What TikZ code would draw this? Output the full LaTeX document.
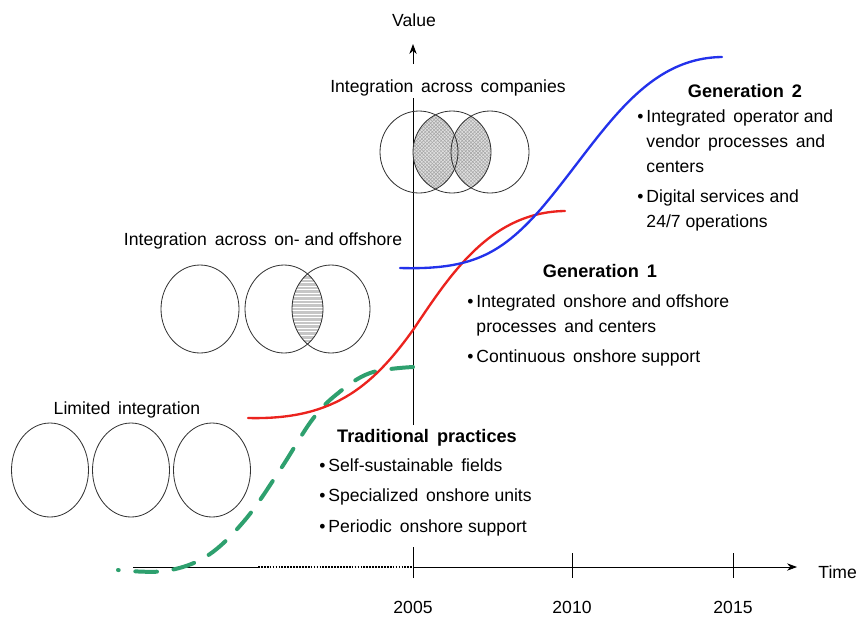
\documentclass[tikz,border=0pt]{standalone}
\usepackage{fontspec}
\setmainfont{Liberation Sans}
\usetikzlibrary{positioning,patterns,arrows.meta}

\definecolor{gentrad}{RGB}{46,160,110}
\definecolor{genone}{RGB}{235,35,30}
\definecolor{gentwo}{RGB}{35,50,235}

\begin{document}
\begin{tikzpicture}[%
    x=0.3mm, y=-0.3mm,
    >={Stealth[length=3mm,width=2.2mm]},
    every node/.style={font=\fontsize{15}{21.3}\selectfont, inner sep=1pt},
    ring/.style={draw=black!80, line width=0.7pt},
    ringlabel/.style={anchor=base},
    gentitle/.style={anchor=base, font=\fontsize{15.5}{21.3}\selectfont\bfseries},
    genlist/.style={anchor=north west, align=left},
    axisline/.style={line width=0.7pt},
    gencurve/.style={line width=2pt, line cap=round}
    ]
    \useasboundingbox (0,0) rectangle (862,617);

    % axes
    \coordinate (o) at (413,567);
    \coordinate (xstart) at (133,567);
    \coordinate (xdots) at (258,567);
    \coordinate (xend) at (797,567);
    \coordinate (ytop) at (413,44);
    \draw[axisline] (xstart) -- (xdots);
    \draw[line width=1.6pt, dash pattern=on 1.5pt off 1pt] (xdots) -- (o);
    \draw[axisline,->] (o) -- (xend);
    \draw[axisline] (413,578) -- (413,547) (413,425) -- (413,98);
    \draw[axisline,->] (413,64) -- (ytop);
    \foreach \x/\yr in {413/2005, 572/2010, 733/2015} {
      \draw[axisline] (\x,553) -- (\x,578);
      \node[anchor=base] (y\yr) at (\x,613) {\yr};
    }
    \node[anchor=base] (value) at (414,26) {Value};
    \node[anchor=base west] (time) at (817,578) {Time};

    % limited integration
    \node[ringlabel] (lim) at (127,414) {Limited\, integration};
    \foreach \x in {50,131,212}
      \draw[ring] (\x,470) ellipse [x radius=38.5, y radius=47];

    % on- and offshore
    \node[ringlabel] (onoff) at (263,245) {Integration\, across\, on- and offshore};
    \begin{scope}
      \clip (284,309) ellipse [x radius=39, y radius=44];
      \fill[gray!45] (331,309) ellipse [x radius=39, y radius=44];
      \fill[pattern=horizontal lines, pattern color=white] (331,309) ellipse [x radius=39, y radius=44];
    \end{scope}
    \foreach \x in {200,284,331}
      \draw[ring] (\x,309) ellipse [x radius=39, y radius=44];

    % across companies
    \node[ringlabel] (comp) at (448,92) {Integration\, across\, companies};
    \begin{scope}
      \clip (452,152) ellipse [x radius=39, y radius=41];
      \fill[gray!25] (419,152) ellipse [x radius=39, y radius=41]
                     (490,152) ellipse [x radius=39, y radius=41];
      \fill[pattern=crosshatch, pattern color=gray!70] (419,152) ellipse [x radius=39, y radius=41]
                     (490,152) ellipse [x radius=39, y radius=41];
    \end{scope}
    \foreach \x in {419,452,490}
      \draw[ring] (\x,152) ellipse [x radius=39, y radius=41];

    % curves
    \draw[gentrad, line width=3.4pt, line cap=round, dash pattern=on 6.5mm off 5mm]
      plot[smooth, tension=0.6] coordinates {(413,367) (370,373) (337,394) (312,420)
        (280,470) (245,520) (207,556) (165,571) (118,570)};
    \draw[genone, gencurve] (248,418) .. controls (330,420) and (370,390) .. (413,330)
      .. controls (450,275) and (490,212) .. (565,211);
    \draw[gentwo, gencurve] (400,268) .. controls (470,270) and (500,255) .. (540,210)
      .. controls (600,140) and (640,58) .. (722,57);

    % texts
    \node[gentitle] (g2) at (745,97) {Generation\, 2};
    \node[genlist] (g2list) at (636,108) {\textbullet\,Integrated\, operator and\\
      \hphantom{\textbullet\,}vendor\, processes\, and\\
      \hphantom{\textbullet\,}centers\\[5pt]
      \textbullet\,Digital services and\\
      \hphantom{\textbullet\,}24/7 operations};
    \node[gentitle] (g1) at (600,277) {Generation\, 1};
    \node[genlist] (g1list) at (466,293) {\textbullet\,Integrated\, onshore and offshore\\
      \hphantom{\textbullet\,}processes\, and centers\\[5pt]
      \textbullet\,Continuous\, onshore support};
    \node[gentitle] (g0) at (427,442) {Traditional\, practices};
    \node[genlist] (g0list) at (318,457) {\textbullet\,Self-sustainable\, fields\\[5pt]
      \textbullet\,Specialized\, onshore units\\[5pt]
      \textbullet\,Periodic\, onshore support};
  \end{tikzpicture}
\end{document}
